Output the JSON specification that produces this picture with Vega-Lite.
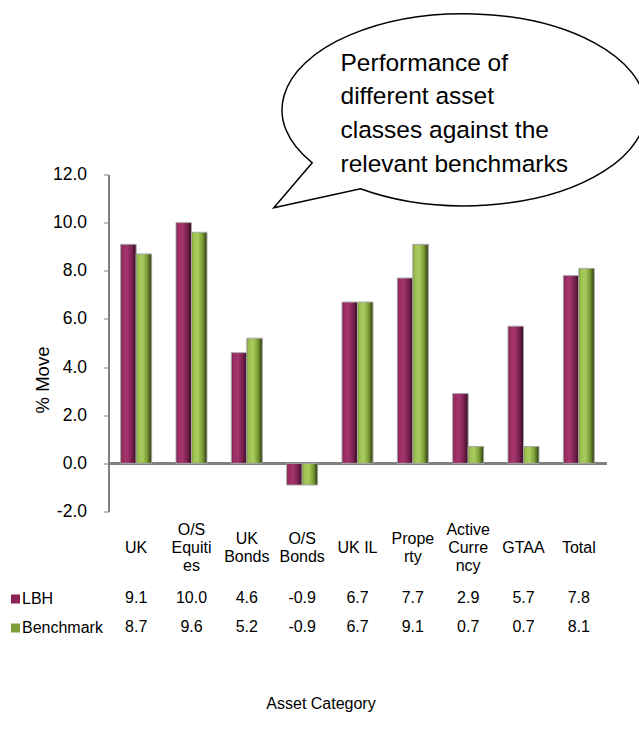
{
  "$schema": "https://vega.github.io/schema/vega-lite/v6.json",
  "padding": {"left": 5.5, "top": 10.5, "right": 0, "bottom": 5},
  "config": {
    "font": "Liberation Sans",
    "view": {"stroke": null},
    "locale": {"number": {"decimal": ".", "thousands": ",", "grouping": [3], "currency": ["$", ""], "minus": "-"}}
  },
  "datasets": {
    "moves": [
      {"category": "UK", "series": "LBH", "value": 9.1},
      {"category": "UK", "series": "Benchmark", "value": 8.7},
      {"category": "O/S Equities", "series": "LBH", "value": 10.0},
      {"category": "O/S Equities", "series": "Benchmark", "value": 9.6},
      {"category": "UK Bonds", "series": "LBH", "value": 4.6},
      {"category": "UK Bonds", "series": "Benchmark", "value": 5.2},
      {"category": "O/S Bonds", "series": "LBH", "value": -0.9},
      {"category": "O/S Bonds", "series": "Benchmark", "value": -0.9},
      {"category": "UK IL", "series": "LBH", "value": 6.7},
      {"category": "UK IL", "series": "Benchmark", "value": 6.7},
      {"category": "Property", "series": "LBH", "value": 7.7},
      {"category": "Property", "series": "Benchmark", "value": 9.1},
      {"category": "Active Currency", "series": "LBH", "value": 2.9},
      {"category": "Active Currency", "series": "Benchmark", "value": 0.7},
      {"category": "GTAA", "series": "LBH", "value": 5.7},
      {"category": "GTAA", "series": "Benchmark", "value": 0.7},
      {"category": "Total", "series": "LBH", "value": 7.8},
      {"category": "Total", "series": "Benchmark", "value": 8.1}
    ],
    "categories": [
      {"category": "UK", "label": "UK"},
      {"category": "O/S Equities", "label": "O/S\nEquiti\nes"},
      {"category": "UK Bonds", "label": "UK\nBonds"},
      {"category": "O/S Bonds", "label": "O/S\nBonds"},
      {"category": "UK IL", "label": "UK IL"},
      {"category": "Property", "label": "Prope\nrty"},
      {"category": "Active Currency", "label": "Active\nCurre\nncy"},
      {"category": "GTAA", "label": "GTAA"},
      {"category": "Total", "label": "Total"}
    ]
  },
  "bounds": "flush",
  "spacing": 0,
  "vconcat": [
    {
      "width": 498,
      "height": 337,
      "layer": [
        {
          "data": {"name": "moves"},
          "layer": [
            {
              "mark": {"type": "rule", "color": "#808080", "strokeWidth": 2},
              "encoding": {
                "y": {
                  "datum": 0,
                  "type": "quantitative",
                  "title": "% Move",
                  "scale": {"domain": [-2, 12]},
                  "axis": {
                    "title": "% Move",
                    "values": [-2, 0, 2, 4, 6, 8, 10, 12],
                    "format": ".1f",
                    "grid": false,
                    "domainColor": "#808080",
                    "domainWidth": 2,
                    "tickColor": "#808080",
                    "tickSize": 5,
                    "tickWidth": 1,
                    "labelFontSize": 17.5,
                    "labelColor": "black",
                    "labelPadding": 17,
                    "titleFontSize": 18.5,
                    "titleFontWeight": "normal",
                    "titleColor": "black",
                    "titleAngle": 270,
                    "titleAlign": "center",
                    "titleBaseline": "middle",
                    "titleX": -66,
                    "titleY": 205
                  }
                }
              }
            },
            {
              "transform": [{"filter": "datum.series === 'LBH'"}],
              "mark": {
                "type": "bar",
                "fill": {
                  "gradient": "linear", "x1": 0, "x2": 1, "y1": 0, "y2": 0,
                  "stops": [
                    {"offset": 0, "color": "#6a1a41"},
                    {"offset": 0.12, "color": "#9a2c62"},
                    {"offset": 0.4, "color": "#a5356d"},
                    {"offset": 0.7, "color": "#7c2352"},
                    {"offset": 1, "color": "#3a0c23"}
                  ]
                },
                "stroke": "#a8a8a8",
                "strokeWidth": 1
              },
              "encoding": {
                "x": {
                  "field": "category", "type": "nominal",
                  "scale": {
                    "domain": ["UK", "O/S Equities", "UK Bonds", "O/S Bonds", "UK IL", "Property", "Active Currency", "GTAA", "Total"],
                    "paddingInner": 0.44, "paddingOuter": 0.22
                  },
                  "axis": null
                },
                "xOffset": {"field": "series", "scale": {"domain": ["LBH", "Benchmark"], "paddingInner": 0, "paddingOuter": 0}},
                "y": {"field": "value", "type": "quantitative", "title": "% Move", "scale": {"domain": [-2, 12]}}
              }
            },
            {
              "transform": [{"filter": "datum.series === 'Benchmark'"}],
              "mark": {
                "type": "bar",
                "fill": {
                  "gradient": "linear", "x1": 0, "x2": 1, "y1": 0, "y2": 0,
                  "stops": [
                    {"offset": 0, "color": "#728f2f"},
                    {"offset": 0.12, "color": "#9cc04f"},
                    {"offset": 0.4, "color": "#a9cc5f"},
                    {"offset": 0.7, "color": "#7e9f37"},
                    {"offset": 1, "color": "#2c3a0f"}
                  ]
                },
                "stroke": "#a8a8a8",
                "strokeWidth": 1
              },
              "encoding": {
                "x": {
                  "field": "category", "type": "nominal",
                  "scale": {
                    "domain": ["UK", "O/S Equities", "UK Bonds", "O/S Bonds", "UK IL", "Property", "Active Currency", "GTAA", "Total"],
                    "paddingInner": 0.44, "paddingOuter": 0.22
                  },
                  "axis": null
                },
                "xOffset": {"field": "series", "scale": {"domain": ["LBH", "Benchmark"], "paddingInner": 0, "paddingOuter": 0}},
                "y": {"field": "value", "type": "quantitative", "title": "% Move", "scale": {"domain": [-2, 12]}}
              }
            }
          ]
        },
        {
          "data": {"values": [{"note": "Performance of\ndifferent asset\nclasses against the\nrelevant benchmarks"}]},
          "layer": [
            {
              "mark": {
                "type": "point",
                "shape": "M-0.7565,0.2665L-0.9485,0.4915L-0.515,0.3965A0.91,0.48,0,1,0,-0.7565,0.2665Z",
                "size": 160000,
                "filled": true,
                "fill": "white",
                "stroke": "black",
                "strokeWidth": 1.5,
                "opacity": 1
              },
              "encoding": {
                "x": {"datum": 6.416, "type": "quantitative", "scale": {"domain": [0, 9]}, "axis": null},
                "y": {"datum": 14.7, "type": "quantitative", "title": "% Move", "scale": {"domain": [-2, 12]}}
              }
            },
            {
              "mark": {"type": "text", "align": "left", "baseline": "middle", "fontSize": 24.5, "lineHeight": 33.7, "lineBreak": "\n", "color": "black"},
              "encoding": {
                "x": {"datum": 4.193, "type": "quantitative", "scale": {"domain": [0, 9]}, "axis": null},
                "y": {"datum": 16.6, "type": "quantitative", "title": "% Move", "scale": {"domain": [-2, 12]}},
                "text": {"field": "note"}
              }
            }
          ]
        }
      ],
      "resolve": {"scale": {"x": "independent"}, "axis": {"x": "independent"}}
    },
    {
      "width": 498,
      "height": 72,
      "data": {"name": "categories"},
      "mark": {
        "type": "text",
        "fontSize": 16,
        "lineHeight": 18,
        "lineBreak": "\n",
        "baseline": "middle",
        "color": "black",
        "dy": {"expr": "-9 * (length(split(datum.label, '\\n')) - 1)"}
      },
      "encoding": {
        "x": {
          "field": "category", "type": "nominal",
          "scale": {
            "domain": ["UK", "O/S Equities", "UK Bonds", "O/S Bonds", "UK IL", "Property", "Active Currency", "GTAA", "Total"],
            "paddingInner": 0.44, "paddingOuter": 0.22
          },
          "axis": null
        },
        "text": {"field": "label"}
      }
    },
    {
      "width": 498,
      "height": 58,
      "data": {"name": "moves"},
      "mark": {"type": "text", "fontSize": 16, "baseline": "middle", "color": "black"},
      "encoding": {
        "x": {
          "field": "category", "type": "nominal",
          "scale": {
            "domain": ["UK", "O/S Equities", "UK Bonds", "O/S Bonds", "UK IL", "Property", "Active Currency", "GTAA", "Total"],
            "paddingInner": 0.44, "paddingOuter": 0.22
          },
          "axis": {
            "title": "Asset Category",
            "labels": false,
            "ticks": false,
            "domain": false,
            "grid": false,
            "titleFontSize": 16,
            "titleFontWeight": "normal",
            "titleColor": "black",
            "titleX": 212,
            "titleY": 62,
            "titleAlign": "center",
            "titleBaseline": "middle"
          }
        },
        "y": {
          "field": "series", "type": "nominal",
          "scale": {"domain": ["LBH", "Benchmark"], "paddingInner": 0, "paddingOuter": 0},
          "axis": {
            "title": null,
            "domain": false,
            "grid": false,
            "offset": 89,
            "tickSize": 9,
            "tickWidth": 9,
            "tickCap": "butt",
            "tickColor": {"condition": {"test": "datum.value === 'LBH'", "value": "#8b2456"}, "value": "#7f9e3a"},
            "labelAlign": "left",
            "labelBaseline": "middle",
            "labelPadding": -11,
            "labelFontSize": 16,
            "labelColor": "black"
          }
        },
        "text": {"field": "value", "type": "quantitative", "format": ".1f"}
      }
    }
  ]
}
